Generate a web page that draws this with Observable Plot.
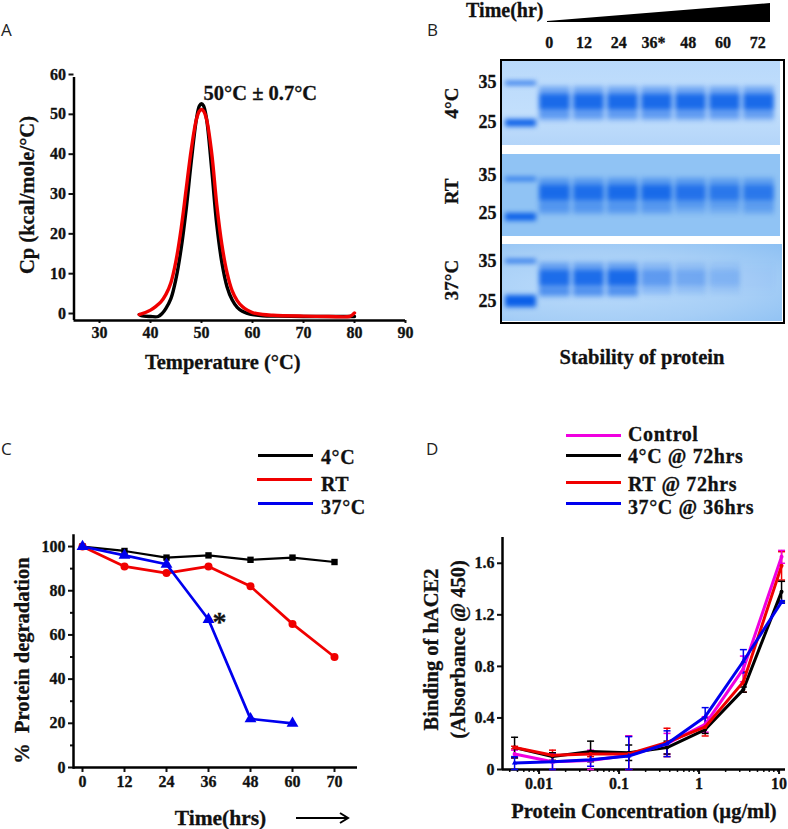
<!DOCTYPE html>
<html><head><meta charset="utf-8">
<script src="https://cdn.jsdelivr.net/npm/d3@7"></script>
<script src="https://cdn.jsdelivr.net/npm/@observablehq/plot@0.6"></script>
<style>
body{margin:0;background:#fff}
#root{position:relative;width:788px;height:829px;overflow:hidden;font-family:"Liberation Serif",serif;font-weight:bold;color:#111}
#root>svg,#root>div{position:absolute}
#root svg text{stroke:currentColor;stroke-width:.3px}
.letter{font:400 17px "Open Sans",sans-serif;color:#222}
.lg{font-size:20px;white-space:nowrap;line-height:20px;letter-spacing:.6px;-webkit-text-stroke:.3px #111}
</style></head><body><div id="root"></div>
<script>
// ---------- Panel A
const tempBlack=[37.8,38.2,40,41.5,42.3,43,44,45,46,47,48,49,49.6,50,50.4,51,52,53,54,55,56,57,58,59,60,62,65,70,80];
const cpBlack=[0.5,0.2,0,0,0.8,2,4.5,9.5,17,27,39,49.5,52.9,53.4,52.9,49.5,37,23,13.5,7.5,4.2,2.3,1.3,0.8,0.5,0.2,0.1,0,0];
const tempRed=[37.8,39,40,41,42,43,44,45,46,47,48,49,49.6,50,50.4,51,52,53,54,55,56,57,58,59,60,62,64,66,70,75,79,79.5,80];
const cpRed=[0.5,1,1.6,2.5,3.6,5.5,8.5,14,22,32,42,49.5,51.6,52,51.6,49.5,41,28,18,11,6.5,4,2.5,1.6,1,0.5,0.3,0.2,0.1,0,0,0.3,0.9];
// ---------- Panel B
const lanes=["M","0","12","24","36","48","60","72"];
const laneHours=[0,12,24,36,48,60,72];
const wedgeHours=[-2,75];
const wedgeHeight=[0,1];
const markerKDa=[35,25];
const main4=[1,1,1,1,1,1,1];
const sub4=[.32,.3,.3,.3,.3,.28,.25];
const mainRT=[.95,.88,.95,.95,.8,.72,.72];
const subRT=[.4,.4,.4,.36,.22,.22,.3];
const main37=[.95,.95,1,.42,.3,.2,.02];
const sub37=[.42,.42,.42,.06,.02,0,0];
// ---------- Panel C
const timeLabels=[0,12,24,36,48,60,70];
const pct4=[100,98,95,96,94,95,93];
const pctRT=[100,91,88,91,82,65,50];
const pct37=[100,96,92,67,22,20];
// ---------- Panel D
const conc=[.0046,.0137,.041,.123,.37,1.11,3.33,10];
const absControl=[.12,.06,.07,.11,.20,.35,.78,1.65];
const abs4=[.17,.10,.14,.13,.17,.31,.62,1.38];
const absRT=[.17,.11,.12,.12,.21,.33,.68,1.58];
const abs37=[.05,.06,.075,.105,.20,.41,.84,1.30];
const errControl=[.03,.06,.08,.15,.08,.06,.10,.05];
const err4=[.08,.03,.08,.06,.05,.03,.02,.08];
const errRT=[.01,.04,.02,.14,.11,.07,.08,.11];
const err37=[.05,.06,.05,.15,.10,.07,.09,.01];
const xMinor=[.004,.005,.006,.007,.008,.009,.02,.03,.04,.05,.06,.07,.08,.09,.2,.3,.4,.5,.6,.7,.8,.9,2,3,4,5,6,7,8,9];

const root=document.getElementById("root");
const base={background:"transparent",fontFamily:"Liberation Serif",fontWeight:"bold",fontSize:"16px",color:"#111"};
const tickFont={fontSize:16,letterSpacing:.6};
function place(el,left,top){el.style.left=left+"px";el.style.top=top+"px";root.appendChild(el);return el;}
function zip(xs,ys,extra={}){return ys.map((y,i)=>({x:xs[i],y,...extra}));}
function html(cls,text,left,top,css=""){const d=document.createElement("div");d.className=cls;d.textContent=text;d.style.cssText=css;return place(d,left,top);}
function title(text,o){return Plot.text([text],{textAnchor:"middle",lineAnchor:"middle",fontSize:20.5,letterSpacing:.5,fontWeight:"bold",...o});}
[["A",1,18],["B",427,18],["C",1,437],["D",426,437]].forEach(([t,x,y])=>html("letter",t,x,y));

// Panel A
place(Plot.plot({
  width:420,height:380,marginLeft:73.5,marginRight:15,marginTop:77,marginBottom:60,style:base,
  x:{domain:[25,90]},y:{domain:[-1,60]},
  marks:[
    Plot.axisX({ticks:[30,40,50,60,70,80,90],tickSize:3,tickPadding:3,strokeWidth:2,...tickFont,label:null}),
    Plot.axisY({ticks:[0,10,20,30,40,50,60],tickSize:5,tickPadding:3,strokeWidth:2,...tickFont,dy:-3,label:null}),
    Plot.ruleX([25],{strokeWidth:2.5,stroke:"#000"}),
    Plot.ruleY([-1],{strokeWidth:2.5,stroke:"#000"}),
    title("Temperature (°C)",{frameAnchor:"bottom",dx:-17,dy:42}),
    title("Cp (kcal/mole/°C)",{frameAnchor:"left",rotate:-90,dx:-46.5,dy:-4}),
    Plot.line(zip(tempBlack,cpBlack),{x:"x",y:"y",stroke:"#000",strokeWidth:3.4,curve:"catmull-rom"}),
    Plot.line(zip(tempRed,cpRed),{x:"x",y:"y",stroke:"#f00000",strokeWidth:3.4,curve:"catmull-rom"}),
    Plot.text(["50°C ± 0.7°C"],{x:50.4,y:56,text:d=>d,textAnchor:"start",fontSize:20.5,fontWeight:"bold"})
  ]}),0,0);

// Panel B header
place(Plot.plot({
  width:368,height:59,marginLeft:127,marginRight:18,marginTop:3,marginBottom:38,style:base,
  x:{domain:wedgeHours},y:{domain:[0,1],axis:null},
  marks:[
    Plot.axisX({ticks:laneHours,tickSize:0,tickPadding:15,...tickFont,dx:-4,label:null,tickFormat:d=>d===36?"36*":d}),
    Plot.areaY(zip(wedgeHours,wedgeHeight),{x:"x",y1:-0.05,y2:"y",fill:"#000"}),
    title("Time(hr)",{frameAnchor:"left",textAnchor:"end",dx:-4,dy:-2,fontSize:20,letterSpacing:1})
  ]}),420,0);

// Panel B gel strips
function strip(o){
  const bg=document.createElement("div");
  bg.style.cssText=`left:${420+81}px;top:${o.top}px;width:${o.w}px;height:${o.h}px;background:${o.bg}`;
  root.appendChild(bg);
  const rows=[];
  o.main.forEach((v,i)=>{const l=lanes[i+1];
    rows.push({l,y1:o.mainKDa-3.9,y2:o.mainKDa+3.9,a:.42*Math.min(1,v*1.25)});
    rows.push({l,y1:o.mainKDa-2,y2:o.mainKDa+2,a:.85*v});
    rows.push({l,y1:o.subKDa-1,y2:o.subKDa+1,a:o.sub[i]});
  });
  rows.push({l:"M",y1:35-.45,y2:35+.45,a:.9});
  rows.push({l:"M",y1:25-o.m25,y2:25+o.m25,a:1});
  place(Plot.plot({
    width:368,height:o.h+(o.extra||0),marginLeft:81,marginRight:6,marginTop:0,marginBottom:o.extra||0,style:base,
    x:{type:"band",domain:lanes,range:[80.6,359.5],paddingInner:.08,paddingOuter:.04,axis:null},
    y:{domain:o.domain,axis:null},
    marks:[
      Plot.axisY({ticks:markerKDa,tickSize:0,tickPadding:5,fontSize:18,letterSpacing:1,dy:o.labelDy}),
      Plot.barY(rows,{x:"l",y1:"y1",y2:"y2",fill:"#0a5fe8",fillOpacity:"a",imageFilter:"blur(2.6px)",clip:true}),
      title(o.name,{frameAnchor:"left",rotate:-90,dx:-50,dy:o.nameDy||0,fontSize:19,letterSpacing:0}),
      ...(o.extra?[title("Stability of protein",{frameAnchor:"bottom",dy:36,letterSpacing:.8})]:[])
    ]}),420,o.top);
}
strip({name:"4°C",top:60,h:85,w:279,main:main4,sub:sub4,mainKDa:30.3,subKDa:26.5,m25:.9,labelDy:-1,domain:[19.4,40.8],
  bg:"linear-gradient(180deg,#b9d9fb,#c2dffc 60%,#b4d5f9)"});
strip({name:"RT",top:154,h:82,w:279,main:mainRT,sub:subRT,mainKDa:31.4,subKDa:26.8,m25:1,labelDy:-4,nameDy:-4,domain:[19.9,41.6],
  bg:"#90c3f4"});
strip({name:"37°C",top:244,h:77,w:281,main:main37,sub:sub37,mainKDa:30.8,subKDa:27,m25:1.5,labelDy:0,nameDy:-3,domain:[20,39.25],extra:50,
  bg:"radial-gradient(ellipse at 35% 55%,#bcdcfb,#a6cef6 60%,#8dc0f3)"});
// gel frame
(()=>{const f=document.createElement("div");
  f.style.cssText="left:500px;top:59px;width:281px;height:261px;border:2.5px solid #000;box-sizing:content-box;";
  root.appendChild(f);})();

// Panel C
const cSeries=[
  {vals:pct4,color:"#000",symbol:"square",r:3.6,w:2.2},
  {vals:pctRT,color:"#f00000",symbol:"circle",r:4,w:2.7},
  {vals:pct37,color:"#0000ee",symbol:"triangle",r:4.4,w:2.7}
];
place(Plot.plot({
  width:400,height:309,marginLeft:73,marginRight:43,marginTop:15,marginBottom:62,style:base,
  x:{type:"point",domain:timeLabels,range:[81,335],padding:0},
  y:{domain:[0,105]},
  marks:[
    Plot.axisX({tickSize:5,tickPadding:3,strokeWidth:2,...tickFont,label:null}),
    Plot.axisY({ticks:[0,20,40,60,80,100],tickSize:5,tickPadding:3,strokeWidth:2,...tickFont,label:null}),
    Plot.axisY({ticks:[10,30,50,70,90],tickSize:3,strokeWidth:2,text:null,label:null}),
    Plot.frame({anchor:"left",stroke:"#000",strokeWidth:2.5}),
    Plot.ruleY([0],{strokeWidth:2.5,stroke:"#000"}),
    title("Time(hrs)",{frameAnchor:"bottom",dx:5,dy:51,fontSize:21.5}),
    title("%  Protein degradation",{frameAnchor:"left",rotate:-90,dx:-51,dy:9}),
    ...cSeries.flatMap(s=>{const pts=zip(timeLabels,s.vals);return [
      Plot.line(pts,{x:"x",y:"y",stroke:s.color,strokeWidth:s.w}),
      Plot.dot(pts,{x:"x",y:"y",fill:s.color,stroke:s.color,strokeWidth:0,symbol:s.symbol,r:s.r})
    ];}),
    Plot.text([{x:36,y:67}],{x:"x",y:"y",text:()=>"*",dx:11,dy:3,fontSize:28,fontWeight:"bold"})
  ]}),0,520);
// arrow of C
(()=>{const s=d3.create("svg").attr("width",60).attr("height",16);
  s.append("path").attr("d","M1 8H52M45 3L53 8L45 13").attr("fill","none").attr("stroke","#000").attr("stroke-width",2);
  place(s.node(),295,810);})();
function legend(items,x0,x1,tx){
  items.forEach(it=>{
    const l=document.createElement("div");
    l.style.cssText=`width:${x1-x0}px;height:${it.h||3}px;background:${it.c}`;
    place(l,x0+(it.sx||0),it.y-(it.h||3)/2);
    html("lg",it.t,tx,it.ty-10);
  });
}
legend([{t:"4°C",c:"#000",y:455,ty:457},{t:"RT",c:"#f00000",y:479,ty:484,sx:-1},{t:"37°C",c:"#0000ee",y:503,ty:507}],258,313,321);

// Panel D
const dSeries=[
  {vals:abs4,err:err4,color:"#000",symbol:"circle"},
  {vals:absControl,err:errControl,color:"#f000e0",symbol:"circle"},
  {vals:absRT,err:errRT,color:"#f00000",symbol:"circle"},
  {vals:abs37,err:err37,color:"#0000ee",symbol:"triangle"}
];
const errOrder=[dSeries[2],dSeries[1],dSeries[0],dSeries[3]];
const capSymbol={draw(c,size){const r=Math.sqrt(size/Math.PI);c.moveTo(-r,0);c.lineTo(r,0);}};
place(Plot.plot({
  width:378,height:309,marginLeft:92,marginRight:3,marginTop:17,marginBottom:60,style:base,
  x:{type:"log",domain:[.00325,11.2]},
  y:{domain:[0,1.8]},
  marks:[
    Plot.axisX({ticks:[.01,.1,1,10],tickFormat:d=>String(d),tickSize:5,tickPadding:3,strokeWidth:2,fontSize:16,letterSpacing:.2,dx:-2.5,label:null}),
    Plot.axisX({ticks:xMinor,tickSize:3,strokeWidth:1.5,text:null,label:null}),
    Plot.axisY({ticks:[0,.4,.8,1.2,1.6],tickFormat:d=>d===0?"0":d.toFixed(1),tickSize:5,tickPadding:3,strokeWidth:2,...tickFont,label:null}),
    Plot.ruleX([.00325],{strokeWidth:2.5,stroke:"#000"}),
    Plot.ruleY([0],{strokeWidth:2.5,stroke:"#000"}),
    title("Protein Concentration (µg/ml)",{frameAnchor:"bottom",dy:42,fontSize:20.5,letterSpacing:.7}),
    title("Binding of hACE2\n(Absorbance @ 450)",{frameAnchor:"left",rotate:-90,dx:-60,dy:-4,lineHeight:1.35,fontSize:20.5}),
    ...errOrder.flatMap(s=>{
      const pts=s.vals.map((v,i)=>({x:conc[i],y:v,lo:Math.max(0,v-s.err[i]),hi:v+s.err[i]}));
      return [
        Plot.ruleX(pts,{x:"x",y1:"lo",y2:"hi",stroke:s.color,strokeWidth:1.5}),
        Plot.dot(pts,{x:"x",y:"lo",symbol:capSymbol,r:3.5,stroke:s.color,strokeWidth:1.5,fill:"none"}),
        Plot.dot(pts,{x:"x",y:"hi",symbol:capSymbol,r:3.5,stroke:s.color,strokeWidth:1.5,fill:"none"})
      ];}),
    ...dSeries.flatMap(s=>{const pts=zip(conc,s.vals);return [
      Plot.line(pts,{x:"x",y:"y",stroke:s.color,strokeWidth:3}),
      Plot.dot(pts,{x:"x",y:"y",fill:s.color,symbol:s.symbol,r:2})
    ];})
  ]}),410,520);
legend([{t:"Control",c:"#f000e0",y:435,ty:434},{t:"4°C @ 72hrs",c:"#000",y:455,ty:456},{t:"RT @ 72hrs",c:"#f00000",y:482,ty:484},{t:"37°C @ 36hrs",c:"#0000ee",y:503,ty:507}],566,621,628);
</script></body></html>
